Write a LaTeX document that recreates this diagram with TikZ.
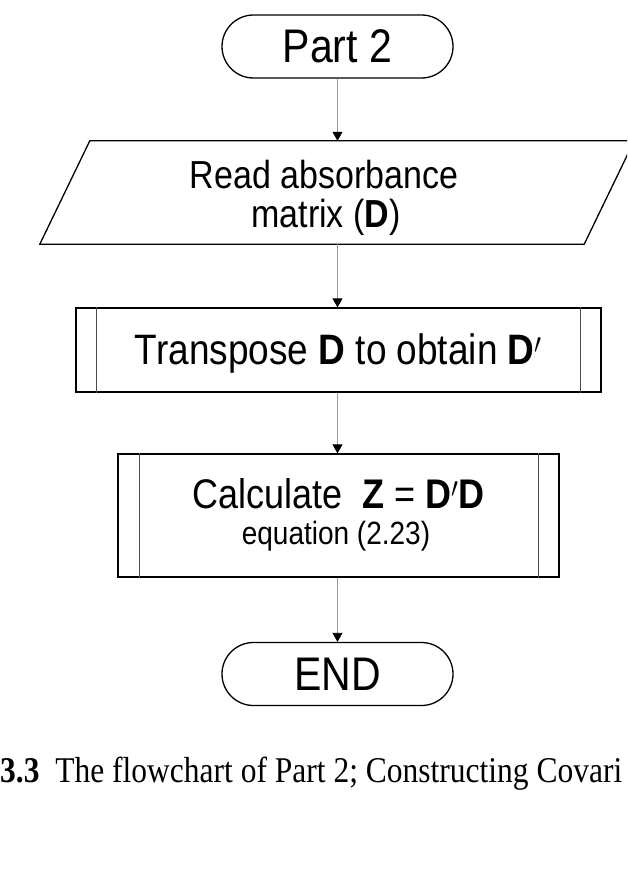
\documentclass[tikz,border=0pt]{standalone}
\usepackage{fontspec}
\usepackage{graphicx}
\setmainfont{Liberation Sans}
\newfontfamily\capfont{Liberation Serif}
\newcommand\tallify[1]{\scalebox{1}[1.15]{#1}}
\usetikzlibrary{shapes.misc,arrows.meta}
\begin{document}
\begin{tikzpicture}[x=1pt,y=-1pt,
  term/.style={rounded rectangle, draw, line width=1.3pt, minimum width=231pt, minimum height=63pt, inner sep=0pt, font=\fontsize{41}{48}\selectfont},
  boxshape/.style={rectangle, draw, line width=1.3pt, inner sep=0pt},
  hidden/.style={rectangle, inner sep=0pt},
  label/.style={inner sep=0pt, anchor=base},
  innerline/.style={draw=black!70, line width=1pt},
  conn/.style={draw=black!40, line width=0.8pt, -{Triangle[width=10pt,length=9pt,black]}}]
\useasboundingbox (0,0) rectangle (627,886);
\clip (0,0) rectangle (627,886);
\fill[white] (0,0) rectangle (627,886);

% Start terminator
\node[term] (start) at (337.5,46.5) {\tallify{Part 2}};

% Input parallelogram
\node[hidden, minimum width=544pt, minimum height=103pt] (read) at (337,192.5) {};
\draw[line width=1.3pt] ([xshift=25pt]read.north west) -- ([xshift=25pt]read.north east)
  -- ([xshift=-25pt]read.south east) -- ([xshift=-25pt]read.south west) -- cycle;
\node[label, font=\fontsize{34}{40}\selectfont] (readA) at (324,188) {\tallify{Read absorbance}};
\node[label, font=\fontsize{34}{40}\selectfont] (readB) at (326,227) {\tallify{matrix (\textbf{D})}};

% Predefined process: transpose
\node[boxshape, minimum width=525pt, minimum height=84pt] (trans) at (338.5,350) {};
\draw[innerline] ([xshift=21pt]trans.north west) -- ([xshift=21pt]trans.south west);
\draw[innerline] ([xshift=-21pt]trans.north east) -- ([xshift=-21pt]trans.south east);
\node[label, font=\fontsize{37}{44}\selectfont] (transT) at (338.5,364) {\tallify{Transpose \textbf{D} to obtain \textbf{D}$'$}};

% Predefined process: calculate
\node[boxshape, minimum width=441pt, minimum height=123pt] (calc) at (338.5,515.5) {};
\draw[innerline] ([xshift=22pt]calc.north west) -- ([xshift=22pt]calc.south west);
\draw[innerline] ([xshift=-21pt]calc.north east) -- ([xshift=-21pt]calc.south east);
\node[label, font=\fontsize{36}{42}\selectfont] (calcT) at (338.5,508) {\tallify{Calculate\ \ \textbf{Z} = \textbf{D}$'$\textbf{D}}};
\node[label, font=\fontsize{28}{34}\selectfont] (calcE) at (336,544) {\tallify{equation (2.23)}};

% End terminator
\node[term] (end) at (337.5,674) {\tallify{END}};

% Connectors
\draw[conn] (start.south) -- (start.south |- read.north);
\draw[conn] (start.south |- read.south) -- (start.south |- trans.north);
\draw[conn] (start.south |- trans.south) -- (start.south |- calc.north);
\draw[conn] (start.south |- calc.south) -- (end.north);

% Caption
\node[inner sep=0pt, anchor=base west, font=\capfont\fontsize{31.5}{38}\selectfont] (cap) at (0,782)
  {\tallify{\textbf{3.3}\ \ The flowchart of Part 2; Constructing Covari}};
\end{tikzpicture}
\end{document}
